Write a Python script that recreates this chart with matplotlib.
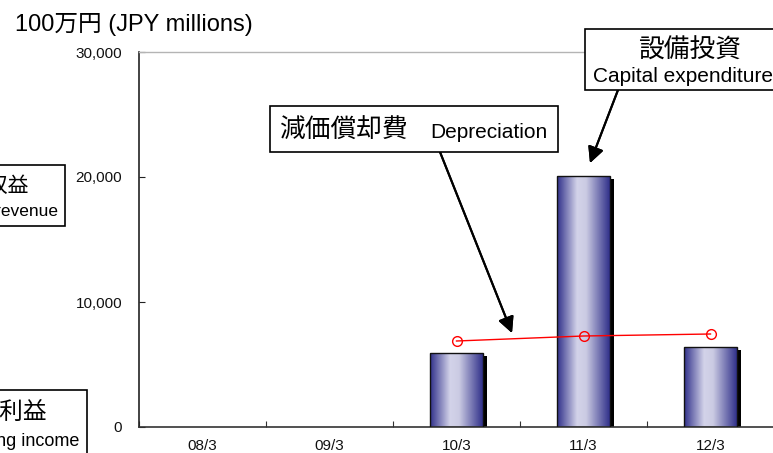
import numpy as np
import matplotlib
matplotlib.use("Agg")
import matplotlib.pyplot as plt
from matplotlib import transforms
from matplotlib.colors import LinearSegmentedColormap
from matplotlib.patches import Rectangle

plt.rcParams['font.family'] = ['Liberation Sans', 'Noto Sans CJK JP']

# data (JPY millions)
periods = ["08/3", "09/3", "10/3", "11/3", "12/3"]
capex = [None, None, 5950, 20080, 6400]
depreciation = [None, None, 6880, 7280, 7440]
yticks = [0, 10000, 20000, 30000]

W, H = 773, 453
fig = plt.figure(figsize=(W / 100, H / 100), dpi=100)


def fx(x):
    return x / W


def fy(y):
    return 1 - y / H


ax = fig.add_axes([fx(139), fy(427), fx(774) - fx(139), fy(52) - fy(427)])

bar_w = 0.41
cmap = LinearSegmentedColormap.from_list(
    "tube", [(0, "#30308a"), (0.38, "#d3d3e9"), (0.55, "#cbcbe3"), (1, "#30308a")])
grad = np.linspace(0, 1, 256).reshape(1, -1)

idx = [i for i, v in enumerate(capex) if v is not None]
vals = [capex[i] for i in idx]

# shadow
shadow_tr = transforms.offset_copy(ax.transData, fig, x=4, y=-3, units='dots')
ax.bar(idx, vals, width=bar_w, color='black', zorder=1, transform=shadow_tr)

# gradient fill + outline
outlines = ax.bar(idx, vals, width=bar_w, facecolor='none', edgecolor='#111111',
                  linewidth=1.0, zorder=3)
for rect in outlines:
    x0 = rect.get_x()
    img = ax.imshow(grad, cmap=cmap, aspect='auto', zorder=2,
                    extent=[x0, x0 + rect.get_width(), 0, rect.get_height()])
    img.set_clip_path(rect)

ax.set_xlim(-0.5, len(periods) - 0.5)
ax.set_ylim(0, 30000)

# depreciation line
didx = [i for i, v in enumerate(depreciation) if v is not None]
dvals = [depreciation[i] for i in didx]
ax.plot(didx, dvals, color='#ff0000', lw=1.0, marker='o', markersize=7,
        mfc='none', mec='#ff0000', mew=1.0, zorder=4)

# axes styling
ax.spines['right'].set_visible(False)
ax.spines['top'].set_color('#b4b4b4')
ax.spines['top'].set_linewidth(1.0)
ax.spines['left'].set_color('#222222')
ax.spines['bottom'].set_color('#333333')
ax.spines['left'].set_linewidth(1.2)
ax.spines['bottom'].set_linewidth(1.2)

ax.set_yticks(yticks)
ax.set_yticklabels([f"{v:,}" for v in yticks], fontsize=11, color='#111111')
ax.tick_params(axis='y', direction='in', length=4, pad=12, color='#222222')

ax.set_xticks(np.arange(len(periods) + 1) - 0.5)
ax.set_xticklabels([])
ax.set_xticks(np.arange(len(periods)), minor=True)
ax.set_xticklabels(periods, minor=True, fontsize=11, color='#111111')
ax.tick_params(axis='x', which='major', direction='in', length=4, color='#333333')
ax.tick_params(axis='x', which='minor', length=0, pad=9)

# unit label
fig.text(fx(15), fy(25), "100万円 (JPY millions)", fontsize=17, va='center', ha='left')


def box(x0, y0, x1, y1):
    fig.add_artist(Rectangle((fx(x0), fy(y1)), fx(x1) - fx(x0), fy(y0) - fy(y1),
                             transform=fig.transFigure, facecolor='white',
                             edgecolor='black', lw=1.2, zorder=5))


# capex label
box(585, 29, 800, 90)
fig.text(fx(690), fy(51), "設備投資", fontsize=18.5, ha='center', va='center', zorder=6)
fig.text(fx(593), fy(77), "Capital expenditure", fontsize=15, ha='left', va='center', zorder=6)

# depreciation label
box(270, 106, 558, 152)
fig.text(fx(279), fy(131), "減価償却費", fontsize=18.5, ha='left', va='center', zorder=6)
fig.text(fx(430), fy(133), "Depreciation", fontsize=15, ha='left', va='center', zorder=6)

# left side boxes (partly cut off, as in the source)
box(-20, 165, 65, 226)
fig.text(fx(29), fy(186), "営業収益", fontsize=15, ha='right', va='center', zorder=6)
fig.text(fx(58), fy(212), "Operating revenue", fontsize=12.5, ha='right', va='center', zorder=6)

box(-20, 390, 87, 470)
fig.text(fx(47), fy(413), "営業利益", fontsize=17, ha='right', va='center', zorder=6)
fig.text(fx(79), fy(441), "Operating income", fontsize=13, ha='right', va='center', zorder=6)

# arrows
arrow = dict(arrowstyle='-|>', color='black', lw=1.5, mutation_scale=24,
             shrinkA=0, shrinkB=0)
fig.add_artist(plt.annotate("", xy=(fx(590), fy(163)), xytext=(fx(618), fy(90)),
                            xycoords='figure fraction', textcoords='figure fraction',
                            arrowprops=arrow))
fig.add_artist(plt.annotate("", xy=(fx(512), fy(333)), xytext=(fx(440), fy(152)),
                            xycoords='figure fraction', textcoords='figure fraction',
                            arrowprops=arrow))

fig.savefig("out.png", dpi=100)
